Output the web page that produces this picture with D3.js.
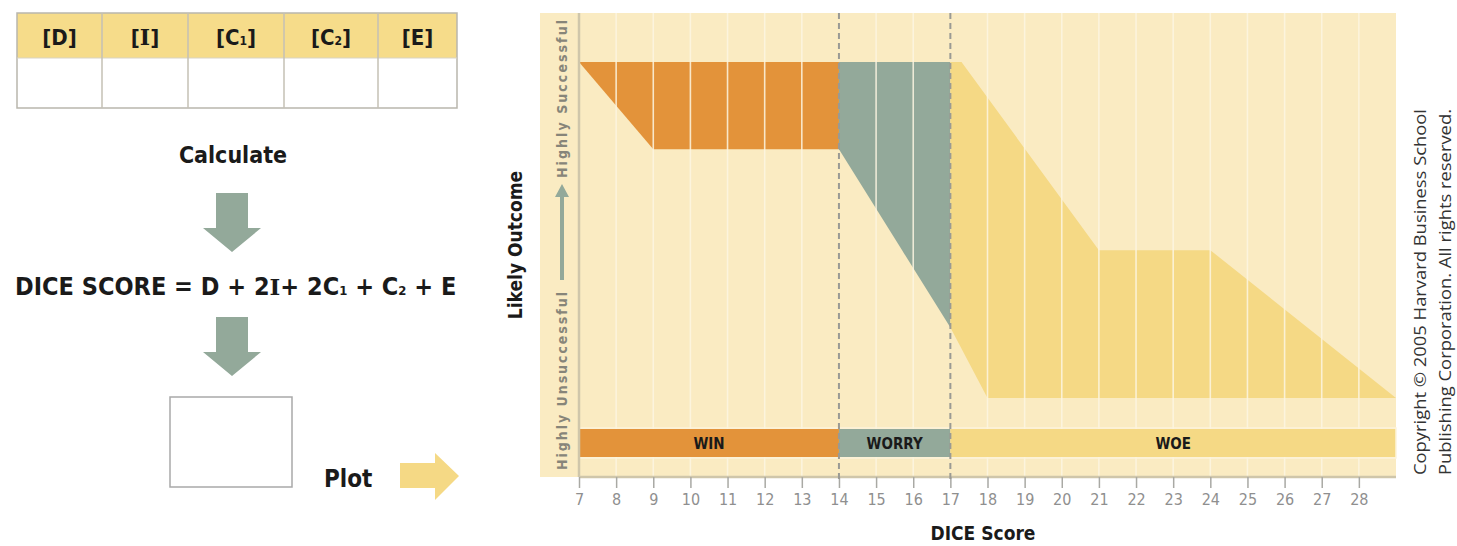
<!DOCTYPE html>
<html>
<head>
<meta charset="utf-8">
<script src="https://cdn.jsdelivr.net/npm/d3@7"></script>
<style>
  html, body { margin: 0; padding: 0; background: #ffffff; }
  svg { display: block; }
</style>
</head>
<body>
<svg id="chart" width="1457" height="546"></svg>
<script>
// ---- data ----------------------------------------------------------
const tableHeaders = ["D", "I", "C1", "C2", "E"];
const tickLabels = [7, 8, 9, 10, 11, 12, 13, 14, 15, 16, 17, 18, 19, 20, 21, 22, 23, 24, 25, 26, 27, 28];
const zoneNames = ["WIN", "WORRY", "WOE"];
const zoneStart = [7, 14, 17];
const zoneEnd = [14, 17, 29];
const zoneBoundaries = [14, 17];

// outcome envelopes: 100 = highly successful, 0 = highly unsuccessful
const winTop = [[7, 100], [14, 100]];
const winBottom = [[7, 100], [9, 74], [14, 74]];
const worryTop = [[14, 100], [17, 100]];
const worryBottom = [[14, 74], [17, 21]];
const woeTop = [[17, 100], [17.3, 100], [21, 44], [24, 44], [29, 0]];
const woeBottom = [[17, 21], [18, 0], [29, 0]];

// ---- styling -------------------------------------------------------
const C = {
  bg: "#faebc2",
  win: "#e3933a",
  worry: "#93a99a",
  woe: "#f5d985",
  header: "#f6dc8a",
  grid: "#fdf6e2",
  axis: "#cfc6aa",
  dash: "#9a9a94",
  tick: "#8f8f8f"
};
const boldFont = "'Liberation Sans Narrow', 'DejaVu Sans Condensed', sans-serif";

const svg = d3.select("#chart");

// ---- left panel: input table --------------------------------------
const colEdges = [17, 102, 188, 284, 378, 457];
const tableTop = 13, headerBottom = 58, tableBottom = 108;
const left = svg.append("g");

left.append("rect").attr("x", colEdges[0]).attr("y", tableTop)
  .attr("width", colEdges[5] - colEdges[0]).attr("height", headerBottom - tableTop)
  .attr("fill", C.header);
left.append("rect").attr("x", colEdges[0]).attr("y", headerBottom)
  .attr("width", colEdges[5] - colEdges[0]).attr("height", tableBottom - headerBottom)
  .attr("fill", "#fff");
left.append("rect").attr("x", colEdges[0]).attr("y", tableTop)
  .attr("width", colEdges[5] - colEdges[0]).attr("height", tableBottom - tableTop)
  .attr("fill", "none").attr("stroke", "#b9b6ad").attr("stroke-width", 1.5);
left.append("line").attr("x1", colEdges[0]).attr("x2", colEdges[5])
  .attr("y1", headerBottom).attr("y2", headerBottom)
  .attr("stroke", "#d9d4c4").attr("stroke-width", 1);
colEdges.slice(1, 5).forEach(x => {
  left.append("line").attr("x1", x).attr("x2", x).attr("y1", tableTop).attr("y2", tableBottom)
    .attr("stroke", "#c4c0b4").attr("stroke-width", 1.5);
});
tableHeaders.forEach((h, i) => {
  const cx = (colEdges[i] + colEdges[i + 1]) / 2;
  const t = left.append("text").attr("x", cx).attr("y", 45)
    .attr("text-anchor", "middle").attr("font-family", boldFont)
    .attr("font-weight", "bold").attr("font-size", 22).attr("fill", "#1a1a1a");
  t.append("tspan").text("[");
  if (h === "I") {
    t.append("tspan").attr("font-family", "'DejaVu Serif', serif").text("I");
  } else if (h.length === 2) {
    t.append("tspan").text(h[0]);
    t.append("tspan").attr("font-size", 12).text(h[1]);
  } else {
    t.append("tspan").text(h);
  }
  t.append("tspan").text("]");
});

left.append("text").attr("x", 233).attr("y", 163).attr("text-anchor", "middle")
  .attr("font-family", boldFont).attr("font-weight", "bold").attr("font-size", 23)
  .attr("fill", "#1a1a1a").text("Calculate");

// down arrows
function downArrow(g, cx, top, shaftBottom, tip) {
  g.append("path")
    .attr("d", `M${cx - 16},${top} L${cx + 16},${top} L${cx + 16},${shaftBottom} L${cx + 29},${shaftBottom} L${cx},${tip} L${cx - 29},${shaftBottom} L${cx - 16},${shaftBottom} Z`)
    .attr("fill", C.worry);
}
downArrow(left, 232, 193, 228, 252);
downArrow(left, 232, 317, 352, 376);

// formula
const f = left.append("text").attr("x", 15).attr("y", 295)
  .attr("font-family", boldFont).attr("font-weight", "bold").attr("font-size", 25)
  .attr("fill", "#1a1a1a");
f.append("tspan").text("DICE SCORE = D + 2");
f.append("tspan").attr("font-family", "'DejaVu Serif', serif").attr("font-size", 23).text("I");
f.append("tspan").text("+ 2C");
f.append("tspan").attr("font-size", 13).text("1");
f.append("tspan").text(" + C");
f.append("tspan").attr("font-size", 13).text("2");
f.append("tspan").text(" + E");

// result box
left.append("rect").attr("x", 170).attr("y", 397).attr("width", 122).attr("height", 90)
  .attr("fill", "#fff").attr("stroke", "#a9a9a9").attr("stroke-width", 1.5);

left.append("text").attr("x", 324).attr("y", 487)
  .attr("font-family", boldFont).attr("font-weight", "bold").attr("font-size", 24)
  .attr("fill", "#1a1a1a").text("Plot");

left.append("path")
  .attr("d", "M400,463 L435,463 L435,453 L459,476 L435,500 L435,488 L400,488 Z")
  .attr("fill", C.woe);

// ---- right panel: DICE chart --------------------------------------
const plotLeft = 540, plotTop = 13, plotBottom = 477;
const x = d3.scaleLinear().domain([7, 29]).range([579, 1396]);
const y = d3.scaleLinear().domain([0, 100]).range([398, 62]);

const chart = svg.append("g");
chart.append("rect").attr("x", plotLeft).attr("y", plotTop)
  .attr("width", x(29) - plotLeft).attr("height", plotBottom - plotTop)
  .attr("fill", C.bg);

const line = d3.line().x(d => x(d[0])).y(d => y(d[1]));
function envelope(top, bottom) {
  return line(top.concat(bottom.slice().reverse())) + "Z";
}
chart.append("path").attr("d", envelope(winTop, winBottom)).attr("fill", C.win);
chart.append("path").attr("d", envelope(worryTop, worryBottom)).attr("fill", C.worry);
chart.append("path").attr("d", envelope(woeTop, woeBottom)).attr("fill", C.woe);

// vertical grid
const gridValues = tickLabels.filter(v => v !== 7 && !zoneBoundaries.includes(v));
chart.append("g").selectAll("line").data(gridValues).join("line")
  .attr("x1", d => x(d)).attr("x2", d => x(d))
  .attr("y1", plotTop).attr("y2", plotBottom)
  .attr("stroke", C.grid).attr("stroke-width", 1.6).attr("opacity", 0.85);

// zone bar
const barTop = 429, barH = 28;
chart.append("g").selectAll("rect").data(zoneNames).join("rect")
  .attr("x", (d, i) => x(zoneStart[i])).attr("y", barTop)
  .attr("width", (d, i) => x(zoneEnd[i]) - x(zoneStart[i])).attr("height", barH)
  .attr("fill", (d, i) => [C.win, C.worry, C.woe][i]);
chart.append("rect").attr("x", x(7)).attr("y", barTop - 1)
  .attr("width", x(29) - x(7)).attr("height", barH + 2)
  .attr("fill", "none").attr("stroke", "#fdf4dc").attr("stroke-width", 1.5);
chart.append("g").selectAll("text").data(zoneNames).join("text")
  .attr("x", (d, i) => (x(zoneStart[i]) + x(zoneEnd[i])) / 2)
  .attr("y", barTop + barH / 2 + 5.5)
  .attr("text-anchor", "middle").attr("font-family", boldFont)
  .attr("font-weight", "bold").attr("font-size", 15).attr("fill", "#1a1a1a")
  .text(d => d);

// y axis line and x axis
chart.append("line").attr("x1", x(7)).attr("x2", x(7)).attr("y1", plotTop).attr("y2", plotBottom)
  .attr("stroke", C.axis).attr("stroke-width", 2.5);

const xAxis = d3.axisBottom(x).tickValues(tickLabels).tickSize(11).tickPadding(6)
  .tickFormat(d3.format("d"));
const ax = chart.append("g").attr("transform", `translate(0,${plotBottom})`).call(xAxis);
ax.select(".domain").attr("d", `M${x(7)},0H${x(29)}`).attr("stroke", C.axis).attr("stroke-width", 2.5);
ax.selectAll(".tick line").attr("stroke", "#a9a9a4").attr("stroke-width", 1.5);
ax.selectAll(".tick text").attr("fill", C.tick).attr("font-size", 16)
  .attr("font-family", "'DejaVu Sans Condensed', sans-serif");

// zone boundaries
chart.append("g").selectAll("line").data(zoneBoundaries).join("line")
  .attr("x1", d => x(d)).attr("x2", d => x(d))
  .attr("y1", plotTop).attr("y2", plotBottom + 2)
  .attr("stroke", C.dash).attr("stroke-width", 2).attr("stroke-dasharray", "6,4");

// outcome scale labels inside left strip
const stripX = 562;
chart.append("text").attr("transform", `translate(${stripX + 5},178) rotate(-90)`)
  .attr("font-family", boldFont).attr("font-weight", "bold").attr("font-size", 14)
  .attr("fill", "#878579").attr("textLength", 158).attr("lengthAdjust", "spacing")
  .text("Highly Successful");
chart.append("text").attr("transform", `translate(${stripX + 5},470) rotate(-90)`)
  .attr("font-family", boldFont).attr("font-weight", "bold").attr("font-size", 14)
  .attr("fill", "#878579").attr("textLength", 178).attr("lengthAdjust", "spacing")
  .text("Highly Unsuccessful");
chart.append("path")
  .attr("d", `M${stripX - 2},280 L${stripX - 2},197 L${stripX - 7},197 L${stripX},184 L${stripX + 7},197 L${stripX + 2},197 L${stripX + 2},280 Z`)
  .attr("fill", C.worry);

// axis titles
chart.append("text").attr("transform", "translate(522,245) rotate(-90)")
  .attr("text-anchor", "middle").attr("font-family", boldFont).attr("font-weight", "bold")
  .attr("font-size", 19).attr("fill", "#1a1a1a").text("Likely Outcome");
chart.append("text").attr("x", 983).attr("y", 540).attr("text-anchor", "middle")
  .attr("font-family", boldFont).attr("font-weight", "bold")
  .attr("font-size", 19).attr("fill", "#1a1a1a").text("DICE Score");

// copyright
["Copyright \u00a9 2005 Harvard Business School", "Publishing Corporation. All rights reserved."]
  .forEach((s, i) => {
    svg.append("text").attr("transform", `translate(${1426 + i * 25},475) rotate(-90)`)
      .attr("font-family", "'Open Sans', sans-serif").attr("font-size", 16)
      .attr("fill", "#333").attr("textLength", 366).attr("lengthAdjust", "spacingAndGlyphs")
      .text(s);
  });
</script>
</body>
</html>
